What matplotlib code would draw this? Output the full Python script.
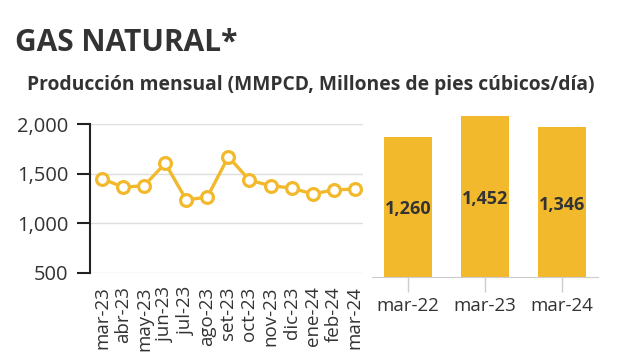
import matplotlib.pyplot as plt

plt.rcParams['font.family'] = ['Open Sans', 'DejaVu Sans']

# - - - data - - - #
months = ["mar-23", "abr-23", "may-23", "jun-23", "jul-23", "ago-23", "set-23",
          "oct-23", "nov-23", "dic-23", "ene-24", "feb-24", "mar-24"]
monthly = [1452, 1363, 1380, 1606, 1235, 1265, 1673, 1434, 1380, 1356, 1296, 1336, 1346]

years = ["mar-22", "mar-23", "mar-24"]
yearly = [1260, 1452, 1346]

yellow = "#F2B92C"
text_col = "#333333"

fig = plt.figure(figsize=(6.2, 3.63), dpi=100)

fig.text(15 / 620, 1 - 43 / 363, "GAS NATURAL*", fontsize=21.5, fontweight="bold",
         color=text_col, va="center", ha="left")
fig.text(27 / 620, 1 - 85 / 363, "Producción mensual (MMPCD, Millones de pies cúbicos/día)",
         fontsize=13.9, fontweight="bold", color=text_col, va="center", ha="left")

# line chart
ax1 = fig.add_axes([0.145, 0.2488, 0.44, 0.4088])
x = list(range(len(months)))
ax1.plot(x, monthly, color=yellow, lw=2.4, marker="o", markersize=8.5,
         markerfacecolor="white", markeredgecolor=yellow, markeredgewidth=2.3, zorder=3)
ax1.set_ylim(500, 2000)
ax1.set_xlim(-0.58, 12.38)
ax1.set_yticks([500, 1000, 1500, 2000])
ax1.set_yticklabels(["500", "1,000", "1,500", "2,000"])
ax1.set_xticks(x)
ax1.set_xticklabels(months, rotation=90)
ax1.grid(axis="y", color="#dddddd", lw=1)
ax1.set_axisbelow(True)
for s in ["top", "right", "bottom"]:
    ax1.spines[s].set_visible(False)
ax1.spines["left"].set_linewidth(1.5)
ax1.spines["left"].set_color("#222222")
ax1.tick_params(axis="y", length=9.4, width=1.5, color="#222222", labelsize=14.5,
                labelcolor=text_col, pad=6)
ax1.tick_params(axis="x", length=0, labelsize=13.5, labelcolor=text_col, pad=10)

# bar chart
ax2 = fig.add_axes([0.6, 0.2361, 0.3645, 0.46])
bx = list(range(len(years)))
ax2.bar(bx, yearly, width=0.63, color=yellow)
for xi, v in zip(bx, yearly):
    ax2.text(xi, v / 2 - 20, f"{v:,}", ha="center", va="center", fontsize=13,
             fontweight="bold", color=text_col)
ax2.set_xlim(-0.47, 2.47)
ax2.set_ylim(0, 1500)
ax2.set_yticks([])
ax2.set_xticks(bx)
ax2.set_xticklabels(years)
for s in ["top", "right", "left"]:
    ax2.spines[s].set_visible(False)
ax2.spines["bottom"].set_color("#cccccc")
ax2.tick_params(axis="x", length=11, width=1, color="#cccccc", labelsize=13.5,
                labelcolor=text_col, pad=3)

fig.savefig("out.png", dpi=100)
